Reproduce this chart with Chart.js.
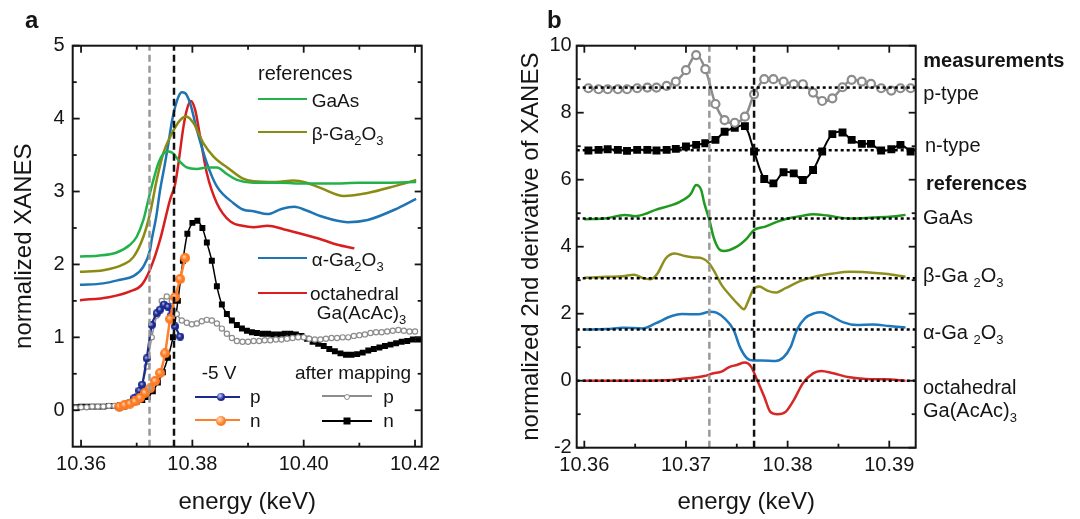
<!DOCTYPE html>
<html>
<head>
<meta charset="utf-8">
<script src="https://cdn.jsdelivr.net/npm/chart.js@4/dist/chart.umd.min.js"></script>
<style>
body { margin: 0; background: #fff; width: 1080px; height: 519px; position: relative; overflow: hidden;
       font-family: "Liberation Sans", Arial, sans-serif; color: #151515; }
canvas { position: absolute; top: 0; }
#chartA { left: 0; }
#chartB { left: 500px; }
.t { position: absolute; font-size: 20px; line-height: 1; white-space: nowrap; transform: translateY(-50%); }
.t sub { font-size: 13px; position: relative; top: 5px; vertical-align: baseline; }
.s { font-size: 19px; }
.b { font-weight: bold; }
.big { font-size: 24px; }
.ln { position: absolute; height: 0; }
.dot { position: absolute; border-radius: 50%; transform: translate(-50%, -50%); }
</style>
</head>
<body>
<canvas id="chartA" width="540" height="519"></canvas>
<canvas id="chartB" width="580" height="519"></canvas>
<div id="labels"></div>
<script>
// ---------- panel a : normalized XANES ----------
const aRange = { xMin: 10.3585, xMax: 10.4212, yMin: -0.5, yMax: 5 };
const edgeLines = [10.3723, 10.3767];   // gray (p) and black (n) dashed markers

const aGaAsE = [10.3598, 10.3630, 10.3663, 10.3688, 10.3700, 10.3712, 10.3721, 10.3730, 10.3739, 10.3748, 10.3757, 10.3766, 10.3775, 10.3790, 10.3808, 10.3826, 10.3844, 10.3862, 10.3880, 10.3910, 10.3960, 10.4000, 10.4050, 10.4100, 10.4150, 10.4202];
const aGaAsY = [2.11, 2.12, 2.16, 2.27, 2.38, 2.61, 2.89, 3.16, 3.39, 3.52, 3.55, 3.52, 3.43, 3.33, 3.31, 3.33, 3.33, 3.24, 3.16, 3.12, 3.12, 3.11, 3.11, 3.12, 3.12, 3.13];

const aBetaE = [10.3598, 10.3640, 10.3676, 10.3694, 10.3712, 10.3724, 10.3736, 10.3748, 10.3760, 10.3778, 10.3789, 10.3802, 10.3820, 10.3838, 10.3868, 10.3890, 10.3910, 10.3950, 10.3982, 10.4005, 10.4030, 10.4072, 10.4115, 10.4162, 10.4202];
const aBetaY = [1.90, 1.92, 2.00, 2.10, 2.38, 2.70, 3.16, 3.53, 3.75, 3.98, 4.03, 3.94, 3.66, 3.48, 3.30, 3.18, 3.14, 3.13, 3.15, 3.12, 3.05, 2.94, 2.98, 3.07, 3.16];

const aAlphaE = [10.3598, 10.3640, 10.3670, 10.3694, 10.3712, 10.3724, 10.3727, 10.3735, 10.3742, 10.3750, 10.3757, 10.3763, 10.3769, 10.3775, 10.3781, 10.3787, 10.3796, 10.3808, 10.3826, 10.3844, 10.3874, 10.3892, 10.3910, 10.3935, 10.3960, 10.3983, 10.4005, 10.4031, 10.4079, 10.4115, 10.4163, 10.4202];
const aAlphaY = [1.72, 1.74, 1.79, 1.84, 1.97, 2.20, 2.34, 2.65, 3.02, 3.35, 3.66, 3.95, 4.16, 4.30, 4.36, 4.35, 4.21, 3.85, 3.39, 3.07, 2.84, 2.75, 2.73, 2.69, 2.76, 2.79, 2.74, 2.66, 2.58, 2.61, 2.75, 2.90];

const aOctaE = [10.3598, 10.3650, 10.3688, 10.3709, 10.3724, 10.3742, 10.3760, 10.3769, 10.3775, 10.3784, 10.3790, 10.3797, 10.3805, 10.3814, 10.3826, 10.3844, 10.3868, 10.3890, 10.3910, 10.3935, 10.3965, 10.4000, 10.4025, 10.4061, 10.4091];
const aOctaY = [1.51, 1.55, 1.63, 1.72, 1.93, 2.34, 2.89, 3.10, 3.39, 3.89, 4.12, 4.24, 4.12, 3.75, 3.25, 2.84, 2.59, 2.53, 2.51, 2.53, 2.48, 2.41, 2.36, 2.27, 2.22];

// -5 V measurements
const aBiasPE = [10.3669, 10.3678, 10.3687, 10.3696, 10.3705, 10.3710, 10.3718, 10.3727, 10.3736, 10.3742, 10.3749, 10.3756, 10.3762, 10.3769, 10.3778];
const aBiasPY = [0.04, 0.06, 0.10, 0.17, 0.27, 0.35, 0.71, 1.17, 1.33, 1.38, 1.45, 1.42, 1.30, 1.15, 1.01];
const aBiasNE = [10.3669, 10.3678, 10.3688, 10.3697, 10.3706, 10.3715, 10.3724, 10.3733, 10.3742, 10.3751, 10.3760, 10.3769, 10.3778, 10.3787];
const aBiasNY = [0.05, 0.07, 0.09, 0.12, 0.17, 0.24, 0.30, 0.40, 0.51, 0.78, 1.25, 1.55, 1.80, 2.09];

// after mapping
const aMapPE = [10.3590, 10.3600, 10.3610, 10.3620, 10.3630, 10.3640, 10.3650, 10.3660, 10.3670, 10.3680, 10.3690, 10.3700,
  10.3709, 10.3718, 10.3727, 10.3736, 10.3745, 10.3754, 10.3763, 10.3772, 10.3781, 10.3790, 10.3799, 10.3808, 10.3817, 10.3826, 10.3835, 10.3844, 10.3853, 10.3862, 10.3871, 10.3880,
  10.3890, 10.3900, 10.3910, 10.3920, 10.3930, 10.3940, 10.3950, 10.3960, 10.3970, 10.3980, 10.3990, 10.4000, 10.4010, 10.4020, 10.4030, 10.4040,
  10.4050, 10.4060, 10.4070, 10.4080, 10.4090, 10.4100, 10.4110, 10.4120, 10.4130, 10.4140, 10.4150, 10.4160, 10.4170, 10.4180, 10.4190, 10.4200];
const aMapPY = [0.03, 0.04, 0.04, 0.05, 0.05, 0.05, 0.06, 0.06, 0.07, 0.09, 0.12, 0.20,
  0.35, 0.60, 1.00, 1.30, 1.50, 1.56, 1.50, 1.32, 1.23, 1.20, 1.18, 1.19, 1.22, 1.24, 1.23, 1.19, 1.12, 1.05, 0.99, 0.95,
  0.94, 0.94, 0.95, 0.95, 0.96, 0.96, 0.97, 0.97, 0.98, 0.99, 1.00, 1.00, 0.98, 0.97, 0.97, 0.98,
  0.99, 0.99, 1.00, 1.00, 1.02, 1.03, 1.04, 1.06, 1.07, 1.07, 1.08, 1.09, 1.10, 1.09, 1.08, 1.08];
const aMapNE = [10.3590, 10.3600, 10.3610, 10.3620, 10.3630, 10.3640, 10.3650, 10.3660, 10.3670, 10.3680, 10.3690, 10.3700, 10.3710, 10.3720,
  10.3729, 10.3738, 10.3747, 10.3756, 10.3765, 10.3774, 10.3783, 10.3791, 10.3800, 10.3809, 10.3818, 10.3826, 10.3835, 10.3844, 10.3853, 10.3862, 10.3871, 10.3880, 10.3889, 10.3898, 10.3907, 10.3916,
  10.3926, 10.3936, 10.3946, 10.3956, 10.3966, 10.3976, 10.3986, 10.3996, 10.4006, 10.4016, 10.4026, 10.4036, 10.4046, 10.4056, 10.4066, 10.4076,
  10.4086, 10.4096, 10.4106, 10.4116, 10.4126, 10.4136, 10.4146, 10.4156, 10.4166, 10.4176, 10.4186, 10.4196, 10.4206];
const aMapNY = [0.04, 0.05, 0.05, 0.05, 0.05, 0.05, 0.06, 0.06, 0.07, 0.08, 0.10, 0.12, 0.14, 0.18,
  0.26, 0.38, 0.52, 0.72, 1.00, 1.50, 2.05, 2.42, 2.57, 2.60, 2.50, 2.30, 2.05, 1.70, 1.45, 1.32, 1.23, 1.17, 1.12, 1.09, 1.07, 1.06,
  1.05, 1.05, 1.04, 1.04, 1.05, 1.05, 1.04, 1.02, 0.98, 0.94, 0.91, 0.88, 0.84, 0.81, 0.78, 0.76,
  0.76, 0.77, 0.79, 0.82, 0.84, 0.86, 0.88, 0.90, 0.92, 0.94, 0.95, 0.97, 0.97];

// ---------- panel b : 2nd derivative ----------
const bRange = { xMin: 10.35925, xMax: 10.3926, yMin: -2, yMax: 10 };
const bBaselines = [8.75, 6.88, 4.84, 3.06, 1.53, 0];

const bMeasE = [10.3604, 10.3614, 10.3623, 10.3633, 10.3642, 10.3652, 10.3662, 10.3671, 10.3681, 10.3690, 10.3700, 10.3710, 10.3719, 10.3729, 10.3738, 10.3748, 10.3758,
  10.3767, 10.3777, 10.3786, 10.3796, 10.3806, 10.3815, 10.3825, 10.3834, 10.3844, 10.3854, 10.3863, 10.3873, 10.3882, 10.3892, 10.3902, 10.3911, 10.3921];
const bPTypeY = [8.73, 8.70, 8.70, 8.70, 8.70, 8.73, 8.75, 8.75, 8.80, 8.93, 9.27, 9.72, 9.30, 8.26, 7.78, 7.70, 7.88,
  8.55, 9.00, 9.00, 8.93, 8.85, 8.85, 8.60, 8.35, 8.43, 8.76, 8.98, 8.93, 8.86, 8.73, 8.66, 8.73, 8.73];
const bNTypeY = [6.87, 6.89, 6.91, 6.89, 6.86, 6.89, 6.89, 6.87, 6.89, 6.92, 6.99, 7.04, 7.09, 7.19, 7.43, 7.55, 7.60,
  6.84, 6.02, 5.89, 6.22, 6.19, 5.99, 6.29, 6.84, 7.36, 7.41, 7.19, 7.07, 7.07, 6.87, 6.91, 7.04, 6.84];

const bGaAsE = [10.3600, 10.3622, 10.3640, 10.3650, 10.3662, 10.3670, 10.3686, 10.3694, 10.3702, 10.3705, 10.3710, 10.3715, 10.3718, 10.3723, 10.3727, 10.3732, 10.3737, 10.3750, 10.3760, 10.3767, 10.3778, 10.3790, 10.3801, 10.3814, 10.3825, 10.3839, 10.3861, 10.3884, 10.3903, 10.3916];
const bGaAsY = [4.82, 4.85, 4.95, 4.91, 5.00, 5.10, 5.24, 5.34, 5.49, 5.59, 5.84, 5.69, 5.30, 4.80, 4.30, 3.95, 3.87, 4.00, 4.25, 4.50, 4.60, 4.75, 4.85, 4.92, 4.97, 4.93, 4.84, 4.87, 4.90, 4.95];

const bBetaE = [10.3600, 10.3622, 10.3638, 10.3649, 10.3657, 10.3665, 10.3672, 10.3680, 10.3689, 10.3699, 10.3708, 10.3716, 10.3723, 10.3729, 10.3735, 10.3743, 10.3752, 10.3757, 10.3761, 10.3766, 10.3772, 10.3780, 10.3788, 10.3798, 10.3811, 10.3826, 10.3845, 10.3861, 10.3877, 10.3896, 10.3916];
const bBetaY = [3.07, 3.10, 3.12, 3.16, 3.07, 3.03, 3.20, 3.65, 3.80, 3.72, 3.68, 3.65, 3.50, 3.20, 2.86, 2.56, 2.26, 2.13, 2.36, 2.71, 2.81, 2.69, 2.63, 2.76, 2.96, 3.10, 3.20, 3.25, 3.24, 3.19, 3.10];

const bAlphaE = [10.3600, 10.3622, 10.3638, 10.3657, 10.3670, 10.3686, 10.3696, 10.3712, 10.3724, 10.3730, 10.3738, 10.3747, 10.3753, 10.3760, 10.3766, 10.3775, 10.3788, 10.3796, 10.3803, 10.3809, 10.3817, 10.3826, 10.3833, 10.3842, 10.3855, 10.3868, 10.3884, 10.3900, 10.3916];
const bAlphaY = [1.53, 1.54, 1.58, 1.56, 1.71, 1.93, 1.99, 1.98, 2.06, 2.03, 1.86, 1.51, 1.01, 0.67, 0.60, 0.60, 0.59, 0.70, 1.01, 1.51, 1.86, 2.01, 2.04, 1.94, 1.74, 1.66, 1.68, 1.63, 1.59];

const bOctaE = [10.3600, 10.3654, 10.3686, 10.3702, 10.3718, 10.3727, 10.3735, 10.3742, 10.3750, 10.3758, 10.3764, 10.3770, 10.3777, 10.3783, 10.3790, 10.3798, 10.3806, 10.3815, 10.3825, 10.3833, 10.3845, 10.3861, 10.3877, 10.3896, 10.3916];
const bOctaY = [0.00, 0.00, 0.02, 0.07, 0.14, 0.22, 0.27, 0.40, 0.47, 0.54, 0.42, 0.02, -0.48, -0.93, -1.00, -0.93, -0.58, -0.08, 0.22, 0.29, 0.22, 0.10, 0.05, 0.04, 0.00];

const FONT = '"Liberation Sans", Arial, sans-serif';
const INK = '#151515';
Chart.defaults.font.family = FONT;
Chart.defaults.color = INK;

// shaded ball marker like the -5 V points
function ball(color, light, d) {
    const c = document.createElement('canvas');
    c.width = c.height = d;
    const g = c.getContext('2d');
    const r = d / 2;
    const grd = g.createRadialGradient(r * 0.75, r * 0.7, 0, r, r, r);
    grd.addColorStop(0, light);
    grd.addColorStop(0.55, color);
    grd.addColorStop(1, color);
    g.fillStyle = grd;
    g.beginPath();
    g.arc(r, r, r, 0, Math.PI * 2);
    g.fill();
    return c;
}

function pts(xs, ys) {
    return xs.map((x, i) => ({ x: x, y: ys[i] }));
}

function curve(xs, ys, color, width, extra) {
    return Object.assign({
        data: pts(xs, ys),
        borderColor: color,
        borderWidth: width,
        pointRadius: 0,
        cubicInterpolationMode: 'monotone',
        fill: false
    }, extra || {});
}

function vline(x, range, color) {
    return {
        data: [{ x: x, y: range.yMin }, { x: x, y: range.yMax }],
        borderColor: color, borderWidth: 2.5, borderDash: [7, 4], pointRadius: 0
    };
}

function hline(y, range) {
    return {
        data: [{ x: range.xMin, y: y }, { x: range.xMax, y: y }],
        borderColor: '#000', borderWidth: 2.5, borderDash: [3, 3], pointRadius: 0
    };
}

// frame with inward major/minor ticks on all four sides
const frameTicks = {
    id: 'frameTicks',
    afterDatasetsDraw(chart) {
        const { ctx, chartArea: a, scales: { x, y } } = chart;
        ctx.save();
        ctx.strokeStyle = INK;
        ctx.lineWidth = 1.8;
        const seg = (x1, y1, x2, y2) => { ctx.beginPath(); ctx.moveTo(x1, y1); ctx.lineTo(x2, y2); ctx.stroke(); };
        const xs = x.ticks.map(t => t.value);
        const ys = y.ticks.map(t => t.value);
        const mid = vals => vals.slice(1).map((v, i) => (v + vals[i]) / 2);
        xs.forEach(v => { const p = x.getPixelForValue(v); seg(p, a.bottom, p, a.bottom - 7); seg(p, a.top, p, a.top + 7); });
        mid(xs).forEach(v => { const p = x.getPixelForValue(v); seg(p, a.bottom, p, a.bottom - 4); seg(p, a.top, p, a.top + 4); });
        ys.forEach(v => { const p = y.getPixelForValue(v); seg(a.left, p, a.left + 7, p); seg(a.right, p, a.right - 7, p); });
        mid(ys).forEach(v => { const p = y.getPixelForValue(v); seg(a.left, p, a.left + 4, p); seg(a.right, p, a.right - 4, p); });
        ctx.lineWidth = 2;
        ctx.strokeRect(a.left, a.top, a.right - a.left, a.bottom - a.top);
        ctx.restore();
    }
};

function axes(range, xStep, yStep, xDigits, yTitle, yWidth, yTitlePad, yTickPad, xHeight) {
    return {
        x: {
            type: 'linear', min: range.xMin, max: range.xMax,
            grid: { display: false, drawTicks: false }, border: { display: false },
            ticks: { stepSize: xStep, includeBounds: false, autoSkip: false, maxRotation: 0, padding: 6,
                     font: { size: 20 }, callback: v => v.toFixed(xDigits) },
            title: { display: true, text: 'energy (keV)', font: { size: 24 }, padding: { top: 0, bottom: 2 } },
            afterFit: s => { s.height = xHeight; }
        },
        y: {
            type: 'linear', min: range.yMin, max: range.yMax,
            grid: { display: false, drawTicks: false }, border: { display: false },
            ticks: { stepSize: yStep, includeBounds: false, autoSkip: false, padding: yTickPad, font: { size: 20 } },
            title: { display: true, text: yTitle, font: { size: 24 }, padding: { top: yTitlePad, bottom: 0 } },
            afterFit: s => { s.width = yWidth; }
        }
    };
}

function build(id, datasets, scales, padRight) {
    new Chart(document.getElementById(id), {
        type: 'line',
        data: { datasets: datasets },
        options: {
            responsive: false, animation: false, events: [],
            layout: { padding: { left: 0, top: 45.7, right: padRight, bottom: 0 } },
            plugins: { legend: { display: false }, tooltip: { enabled: false } },
            scales: scales
        },
        plugins: [frameTicks]
    });
}

const navyBall = ball('#1b2a8f', '#c8d0ff', 8);
const orangeBall = ball('#ff7a22', '#ffe0c0', 10);

build('chartA', [
    vline(edgeLines[1], aRange, '#111'),
    vline(edgeLines[0], aRange, '#999'),
    curve(aBiasNE, aBiasNY, '#ff7f2a', 2.5, { cubicInterpolationMode: 'default', tension: 0.2, pointRadius: 5, pointStyle: orangeBall }),
    curve(aBiasPE, aBiasPY, '#1b2a8f', 2.2, { cubicInterpolationMode: 'default', tension: 0.2, pointRadius: 4, pointStyle: navyBall }),
    curve(aMapPE, aMapPY, '#8c8c8c', 1.5, { cubicInterpolationMode: 'default', tension: 0.2, pointRadius: 2.6, pointBorderWidth: 1.2,
        pointBorderColor: '#8c8c8c', pointBackgroundColor: '#fff' }),
    curve(aMapNE, aMapNY, '#000', 1.5, { cubicInterpolationMode: 'default', tension: 0.2, pointRadius: 4.2, pointStyle: 'rect',
        pointBorderWidth: 0, pointBackgroundColor: '#000' }),
    curve(aGaAsE, aGaAsY, '#22b24c', 2.5),
    curve(aBetaE, aBetaY, '#8b8b12', 2.5),
    curve(aAlphaE, aAlphaY, '#1f74b4', 2.5),
    curve(aOctaE, aOctaY, '#d81e1e', 2.5)
], axes(aRange, 0.02, 1, 2, 'normalized XANES', 72.7, 10, 8, 72.3), 118.3);

build('chartB', [
    vline(edgeLines[1], bRange, '#111'),
    vline(edgeLines[0], bRange, '#999')
].concat(bBaselines.map(v => hline(v, bRange)), [
    curve(bMeasE, bPTypeY, '#8c8c8c', 2.5, { cubicInterpolationMode: 'default', tension: 0.35, pointRadius: 4, pointBorderWidth: 2.2,
        pointBorderColor: '#8c8c8c', pointBackgroundColor: '#fff' }),
    curve(bMeasE, bNTypeY, '#000', 2, { cubicInterpolationMode: 'default', tension: 0.35, pointRadius: 5.6, pointStyle: 'rect',
        pointBorderWidth: 0, pointBackgroundColor: '#000' }),
    curve(bGaAsE, bGaAsY, '#1f9a1f', 2.5),
    curve(bBetaE, bBetaY, '#8f8f1f', 2.5),
    curve(bAlphaE, bAlphaY, '#1f77bc', 2.5),
    curve(bOctaE, bOctaY, '#d62626', 2.5)
]), axes(bRange, 0.01, 2, 2, 'normalized 2nd derivative of XANES', 76.7, 16.6, 5, 71.3), 164.3);

// ---------- text and legend keys ----------
const box = document.getElementById('labels');
function label(x, y, html, cls) {
    const d = document.createElement('div');
    d.className = 't' + (cls ? ' ' + cls : '');
    d.style.left = x + 'px';
    d.style.top = y + 'px';
    d.innerHTML = html;
    box.appendChild(d);
}
function key(x1, x2, y, color, width) {
    const d = document.createElement('div');
    d.className = 'ln';
    d.style.left = x1 + 'px';
    d.style.width = (x2 - x1) + 'px';
    d.style.top = (y - width / 2) + 'px';
    d.style.borderTop = width + 'px solid ' + color;
    box.appendChild(d);
}
function marker(x, y, size, css) {
    const d = document.createElement('div');
    d.className = 'dot';
    d.style.left = x + 'px';
    d.style.top = y + 'px';
    d.style.width = d.style.height = size + 'px';
    d.style.cssText += css;
    box.appendChild(d);
}

label(25, 20, 'a', 'b big');
label(547, 20, 'b', 'b big');
label(258, 73, 'references');
key(258, 306.7, 99.3, '#22b24c', 2.5); label(311.7, 100, 'GaAs', 's');
key(258, 306.7, 132.7, '#8b8b12', 2.5); label(311.7, 133, '&beta;-Ga<sub>2</sub>O<sub>3</sub>', 's');
key(258, 306.7, 258.3, '#1f74b4', 2.5); label(311.7, 259, '&alpha;-Ga<sub>2</sub>O<sub>3</sub>', 's');
key(258, 306.7, 293.3, '#d81e1e', 2.5); label(310, 293, 'octahedral', 's');
label(316.7, 312, 'Ga(AcAc)<sub>3</sub>', 's');

label(201.7, 372, '-5 V', 's');
key(195, 240, 396.7, '#1b2a8f', 2.2);
marker(220.7, 396.7, 8, 'background: radial-gradient(circle at 38% 35%, #c8d0ff 0%, #1b2a8f 55%);');
label(250, 396, 'p', 's');
key(195, 240, 420.7, '#ff7f2a', 2.5);
marker(220.7, 420.7, 10, 'background: radial-gradient(circle at 38% 35%, #ffe0c0 0%, #ff7a22 55%);');
label(250, 420, 'n', 's');

label(295, 372, 'after mapping', 's');
key(321.7, 371.7, 396.7, '#8c8c8c', 2.5);
marker(346.7, 396.7, 6, 'background: #fff; border: 1.2px solid #8c8c8c; box-sizing: border-box;');
label(383.3, 396, 'p', 's');
key(321.7, 371.7, 420.7, '#000', 2);
marker(346.7, 420.7, 7, 'background: #000; border-radius: 0;');
label(383.3, 420, 'n', 's');

label(923.3, 60, 'measurements', 'b');
label(923.3, 92.7, 'p-type');
label(925, 145, 'n-type');
label(926, 183.3, 'references', 'b');
label(923, 216.7, 'GaAs');
label(923, 275, '&beta;-Ga <sub>2</sub>O<sub>3</sub>');
label(923, 331.7, '&alpha;-Ga <sub>2</sub>O<sub>3</sub>');
label(923, 386.7, 'octahedral');
label(923, 410, 'Ga(AcAc)<sub>3</sub>');
</script>
</body>
</html>
